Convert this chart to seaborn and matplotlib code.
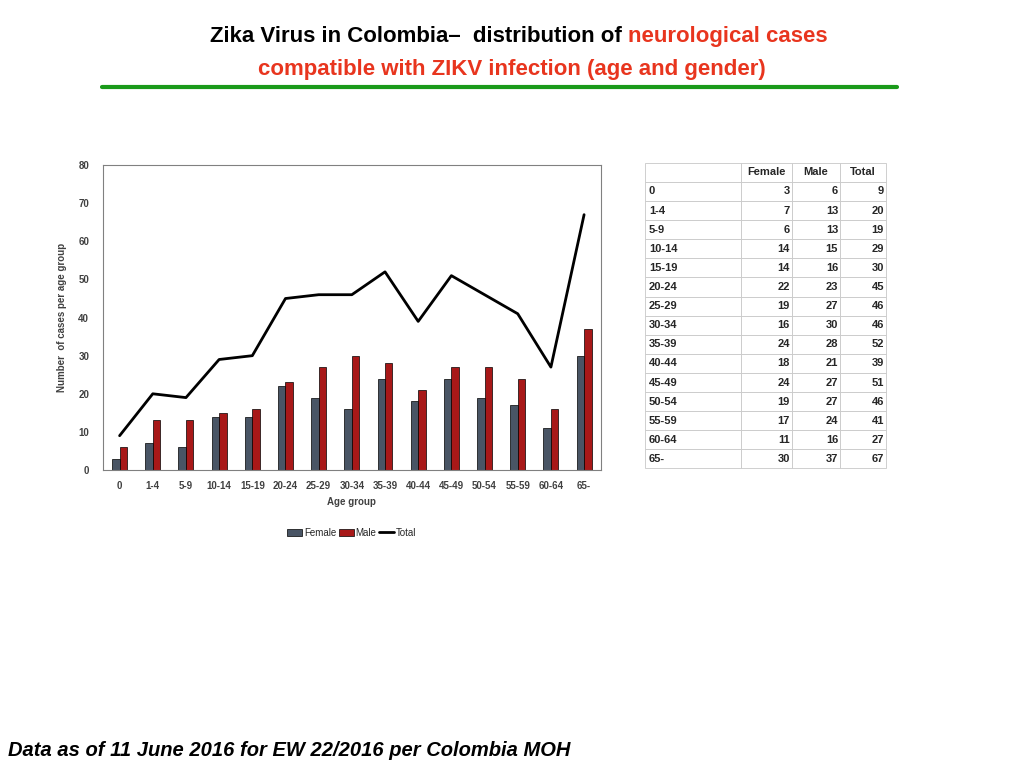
import pandas as pd
import matplotlib
matplotlib.use('Agg')
import matplotlib.pyplot as plt
import seaborn as sns

age_groups = ['0', '1-4', '5-9', '10-14', '15-19', '20-24', '25-29', '30-34',
              '35-39', '40-44', '45-49', '50-54', '55-59', '60-64', '65-']
female = [3, 7, 6, 14, 14, 22, 19, 16, 24, 18, 24, 19, 17, 11, 30]
male = [6, 13, 13, 15, 16, 23, 27, 30, 28, 21, 27, 27, 24, 16, 37]
total = [9, 20, 19, 29, 30, 45, 46, 46, 52, 39, 51, 46, 41, 27, 67]

sns.set_style('white')
plt.rcParams['font.family'] = ['Liberation Sans', 'DejaVu Sans']

fig = plt.figure(figsize=(10.24, 7.68), dpi=100)

# title
fig.text(0.613, 0.953, 'Zika Virus in Colombia\u2013  distribution of ', ha='right', va='center',
         fontsize=16, fontweight='bold', color='black')
fig.text(0.613, 0.953, 'neurological cases', ha='left', va='center',
         fontsize=16, fontweight='bold', color='#E8351E')
fig.text(0.5, 0.910, 'compatible with ZIKV infection (age and gender)', ha='center', va='center',
         fontsize=16, fontweight='bold', color='#E8351E')
fig.add_artist(plt.Line2D([0.1, 0.876], [0.887, 0.887], color='#1A9A1A', lw=3))

# chart
ax = fig.add_axes([0.1006, 0.388, 0.486, 0.397])
df = pd.DataFrame({'Age group': age_groups * 2,
                   'Cases': female + male,
                   'Gender': ['Female'] * len(age_groups) + ['Male'] * len(age_groups)})
sns.barplot(data=df, x='Age group', y='Cases', hue='Gender', ax=ax,
            palette={'Female': '#44546A', 'Male': '#C00000'}, width=0.45,
            edgecolor='black', linewidth=0.5)
ax.plot(range(len(age_groups)), total, color='black', lw=2, label='Total')
ax.set_ylim(0, 80)
ax.set_xlim(-0.5, len(age_groups) - 0.5)
ax.set_yticks(range(0, 81, 10))
ax.tick_params(labelsize=7, colors='#404040', length=0)
for lab in ax.get_xticklabels() + ax.get_yticklabels():
    lab.set_fontweight('bold')
ax.tick_params(axis='y', pad=10)
ax.tick_params(axis='x', pad=8)
ax.set_xlabel('Age group', fontsize=7, fontweight='bold', color='#404040')
ax.set_ylabel('Number  of cases per age group', fontsize=7, fontweight='bold', color='#404040',
              labelpad=8)
for s in ax.spines.values():
    s.set_color('#808080')
    s.set_linewidth(0.8)
handles, labels = ax.get_legend_handles_labels()
ax.legend(handles, labels, loc='upper center', bbox_to_anchor=(0.5, -0.16), ncol=3,
          frameon=False, fontsize=7, handlelength=1.5, columnspacing=0.3, handletextpad=0.2)

# table
tax = fig.add_axes([0.63, 0.39, 0.235, 0.398])
tax.axis('off')
cells = [[a, str(f), str(m), str(t)] for a, f, m, t in zip(age_groups, female, male, total)]
tbl = tax.table(cellText=cells, colLabels=['', 'Female', 'Male', 'Total'],
                colWidths=[0.4, 0.21, 0.2, 0.19], cellLoc='right', bbox=[0, 0, 1, 1])
tbl.auto_set_font_size(False)
tbl.set_fontsize(8)
for (r, c), cell in tbl.get_celld().items():
    cell.set_edgecolor('#C8C8C8')
    cell.set_linewidth(0.6)
    cell.get_text().set_fontweight('bold')
    cell.PAD = 0.04
    if c == 0:
        cell._loc = 'left'
        cell.get_text().set_ha('left')

fig.text(0.008, 0.023, 'Data as of 11 June 2016 for EW 22/2016 per Colombia MOH',
         fontsize=14.5, fontweight='bold', fontstyle='italic', ha='left', va='center',
         color='black')

fig.savefig('out.png', dpi=100)
